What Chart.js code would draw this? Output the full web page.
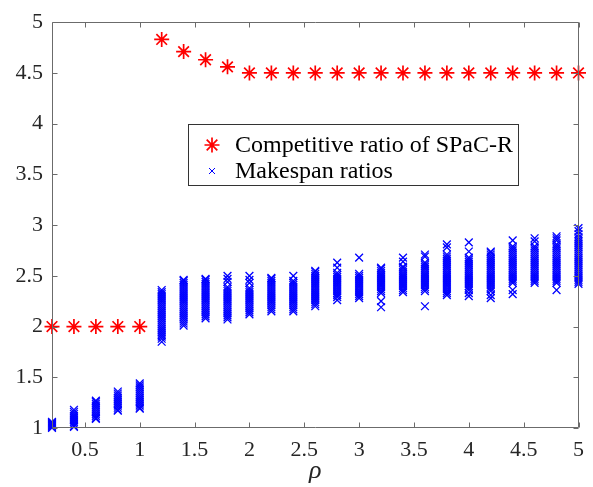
<!DOCTYPE html>
<html>
<head>
<meta charset="utf-8">
<script src="https://cdn.jsdelivr.net/npm/chart.js@4.4.1/dist/chart.umd.min.js"></script>
<style>
  html, body { margin: 0; padding: 0; background: #fff; }
  #wrap { width: 593px; height: 487px; }
</style>
</head>
<body>
<div id="wrap"><canvas id="chart"></canvas></div>
<script>
// rho values on the x axis
var rho = [0.2, 0.4, 0.6, 0.8, 1.0, 1.2, 1.4, 1.6, 1.8, 2.0, 2.2, 2.4, 2.6,
  2.8, 3.0, 3.2, 3.4, 3.6, 3.8, 4.0, 4.2, 4.4, 4.6, 4.8, 5.0];

// competitive ratio of SPaC-R (red asterisks)
var competitiveRatio = [2, 2, 2, 2, 2, 4.83, 4.71, 4.63, 4.56, 4.5, 4.5, 4.5, 4.5,
  4.5, 4.5, 4.5, 4.5, 4.5, 4.5, 4.5, 4.5, 4.5, 4.5, 4.5, 4.5];

// makespan ratios of the instances, one list per rho (blue crosses)
var makespanRatios = [
  [1.00, 1.01, 1.02, 1.03, 1.04, 1.05, 1.06],
  [1.01, 1.02, 1.04, 1.06, 1.08, 1.10, 1.12, 1.14, 1.16, 1.18],
  [1.09, 1.10, 1.12, 1.14, 1.16, 1.18, 1.20, 1.22, 1.24, 1.26, 1.27],
  [1.17, 1.18, 1.20, 1.22, 1.24, 1.26, 1.28, 1.30, 1.32, 1.34, 1.36],
  [1.19, 1.20, 1.22, 1.24, 1.26, 1.28, 1.30, 1.32, 1.34, 1.36, 1.38, 1.40, 1.42, 1.44],
  [1.85, 1.88, 1.90, 1.92, 1.94, 1.96, 1.98, 2.00, 2.02, 2.04, 2.06, 2.08, 2.10, 2.12, 2.14, 2.16,
    2.18, 2.20, 2.22, 2.24, 2.26, 2.28, 2.30, 2.32, 2.34, 2.36],
  [2.01, 2.03, 2.05, 2.07, 2.09, 2.11, 2.13, 2.15, 2.17, 2.19, 2.21, 2.23, 2.25, 2.27, 2.29, 2.31,
    2.33, 2.35, 2.37, 2.39, 2.41, 2.43, 2.45, 2.46],
  [2.08, 2.10, 2.12, 2.14, 2.16, 2.18, 2.20, 2.22, 2.24, 2.26, 2.28, 2.30, 2.32, 2.34, 2.36, 2.38,
    2.40, 2.42, 2.44, 2.46, 2.47],
  [2.07, 2.09, 2.11, 2.13, 2.15, 2.17, 2.19, 2.21, 2.23, 2.25, 2.27, 2.29, 2.31, 2.33, 2.35, 2.37,
    2.39, 2.44, 2.47, 2.50],
  [2.12, 2.14, 2.16, 2.18, 2.20, 2.22, 2.24, 2.26, 2.28, 2.30, 2.32, 2.34, 2.36, 2.38, 2.43, 2.46, 2.50],
  [2.15, 2.17, 2.19, 2.21, 2.23, 2.25, 2.27, 2.29, 2.31, 2.33, 2.35, 2.37, 2.39, 2.41, 2.43, 2.45, 2.47, 2.48],
  [2.15, 2.17, 2.19, 2.21, 2.23, 2.25, 2.27, 2.29, 2.31, 2.33, 2.35, 2.37, 2.39, 2.41, 2.43, 2.45, 2.50],
  [2.20, 2.22, 2.24, 2.26, 2.28, 2.30, 2.32, 2.34, 2.36, 2.38, 2.40, 2.42, 2.44, 2.46, 2.48, 2.50,
    2.52, 2.54, 2.55],
  [2.26, 2.29, 2.31, 2.33, 2.35, 2.37, 2.39, 2.41, 2.43, 2.45, 2.47, 2.49, 2.51, 2.53, 2.58, 2.63],
  [2.28, 2.30, 2.32, 2.34, 2.36, 2.38, 2.40, 2.42, 2.44, 2.46, 2.48, 2.50, 2.52, 2.68],
  [2.19, 2.25, 2.33, 2.35, 2.37, 2.39, 2.41, 2.43, 2.45, 2.47, 2.49, 2.51, 2.53, 2.55, 2.57, 2.58],
  [2.34, 2.36, 2.38, 2.40, 2.42, 2.44, 2.46, 2.48, 2.50, 2.52, 2.54, 2.56, 2.58, 2.59, 2.64, 2.68],
  [2.20, 2.35, 2.37, 2.39, 2.41, 2.43, 2.45, 2.47, 2.49, 2.51, 2.53, 2.55, 2.57, 2.59, 2.61, 2.63,
    2.69, 2.71],
  [2.31, 2.33, 2.35, 2.37, 2.39, 2.41, 2.43, 2.45, 2.47, 2.49, 2.51, 2.53, 2.55, 2.57, 2.59, 2.61,
    2.63, 2.65, 2.67, 2.69, 2.71, 2.78, 2.81],
  [2.30, 2.33, 2.36, 2.38, 2.40, 2.42, 2.44, 2.46, 2.48, 2.50, 2.52, 2.54, 2.56, 2.58, 2.60, 2.62,
    2.64, 2.66, 2.68, 2.74, 2.83],
  [2.28, 2.31, 2.35, 2.37, 2.39, 2.41, 2.43, 2.45, 2.47, 2.49, 2.51, 2.53, 2.55, 2.57, 2.59, 2.61,
    2.63, 2.65, 2.67, 2.69, 2.71, 2.73, 2.74],
  [2.32, 2.36, 2.43, 2.45, 2.47, 2.49, 2.51, 2.53, 2.55, 2.57, 2.59, 2.61, 2.63, 2.65, 2.67, 2.69,
    2.71, 2.73, 2.75, 2.77, 2.79, 2.85],
  [2.43, 2.45, 2.47, 2.49, 2.51, 2.53, 2.55, 2.57, 2.59, 2.61, 2.63, 2.65, 2.67, 2.69, 2.71, 2.73,
    2.75, 2.77, 2.79, 2.84, 2.87],
  [2.36, 2.43, 2.45, 2.47, 2.49, 2.51, 2.53, 2.55, 2.57, 2.59, 2.61, 2.63, 2.65, 2.67, 2.69, 2.71,
    2.73, 2.75, 2.77, 2.79, 2.81, 2.85, 2.87, 2.89],
  [2.42, 2.44, 2.46, 2.48, 2.50, 2.52, 2.54, 2.56, 2.58, 2.60, 2.62, 2.64, 2.66, 2.68, 2.70, 2.72,
    2.74, 2.76, 2.78, 2.80, 2.82, 2.84, 2.86, 2.88, 2.91, 2.94, 2.97]
];

var xTicks = [0.5, 1, 1.5, 2, 2.5, 3, 3.5, 4, 4.5, 5];
var yTicks = [1, 1.5, 2, 2.5, 3, 3.5, 4, 4.5, 5];

var seriesNames = ['Competitive ratio of SPaC-R', 'Makespan ratios'];

var axisColor = '#6b6b6b';
var serif = "'Liberation Serif', 'Times New Roman', serif";

Chart.defaults.font.family = serif;

var competitivePoints = rho.map(function (r, i) {
  return { x: r, y: competitiveRatio[i] };
});

var makespanPoints = [];
rho.forEach(function (r, i) {
  makespanRatios[i].forEach(function (v) {
    makespanPoints.push({ x: r, y: v });
  });
});

// box around the plot, inward ticks on all four sides, and the legend
var boxPlugin = {
  id: 'boxTicks',
  afterDraw: function (chart) {
    var ctx = chart.ctx;
    var a = chart.chartArea;
    var xs = chart.scales.x;
    var ys = chart.scales.y;
    var l = Math.round(a.left) + 0.5, r = Math.round(a.right) - 0.5;
    var t = Math.round(a.top) + 0.5, b = Math.round(a.bottom) - 0.5;
    var len = 5;

    ctx.save();
    ctx.strokeStyle = axisColor;
    ctx.lineWidth = 1;
    ctx.beginPath();
    ctx.rect(l, t, r - l, b - t);
    xTicks.forEach(function (v) {
      var px = Math.round(xs.getPixelForValue(v)) + 0.5;
      ctx.moveTo(px, b); ctx.lineTo(px, b - len);
      ctx.moveTo(px, t); ctx.lineTo(px, t + len);
    });
    yTicks.forEach(function (v) {
      var py = Math.round(ys.getPixelForValue(v)) + 0.5;
      ctx.moveTo(l, py); ctx.lineTo(l + len, py);
      ctx.moveTo(r, py); ctx.lineTo(r - len, py);
    });
    ctx.stroke();

    // legend
    var lx = 188.5, ly = 124.5, lw = 330, lh = 61;
    ctx.fillStyle = '#fff';
    ctx.fillRect(lx, ly, lw, lh);
    ctx.strokeStyle = '#333';
    ctx.strokeRect(lx, ly, lw, lh);

    // asterisk
    var mx = 212, my = 145, mr = 7.5;
    ctx.strokeStyle = '#ff0000';
    ctx.lineWidth = 1.7;
    ctx.beginPath();
    for (var k = 0; k < 4; k++) {
      var ang = k * Math.PI / 4;
      ctx.moveTo(mx - Math.cos(ang) * mr, my - Math.sin(ang) * mr);
      ctx.lineTo(mx + Math.cos(ang) * mr, my + Math.sin(ang) * mr);
    }
    ctx.stroke();

    // cross
    var cx = 212, cy = 171, cr = 3;
    ctx.strokeStyle = '#0000ff';
    ctx.lineWidth = 1;
    ctx.beginPath();
    ctx.moveTo(cx - cr, cy - cr); ctx.lineTo(cx + cr, cy + cr);
    ctx.moveTo(cx - cr, cy + cr); ctx.lineTo(cx + cr, cy - cr);
    ctx.stroke();

    ctx.fillStyle = '#000';
    ctx.font = '24px ' + serif;
    ctx.textAlign = 'left';
    ctx.textBaseline = 'middle';
    ctx.fillText(seriesNames[0], 235, 146);
    ctx.fillText(seriesNames[1], 235, 172);
    ctx.restore();
  }
};

new Chart(document.getElementById('chart'), {
  type: 'scatter',
  data: {
    datasets: [
      {
        label: seriesNames[0],
        data: competitivePoints,
        pointStyle: 'star',
        pointRadius: 7.5,
        pointHoverRadius: 7.5,
        borderColor: '#ff0000',
        backgroundColor: '#ff0000',
        borderWidth: 1.7,
        clip: false,
        order: 1
      },
      {
        label: seriesNames[1],
        data: makespanPoints,
        pointStyle: 'crossRot',
        pointRadius: 5.5,
        pointHoverRadius: 5.5,
        borderColor: '#0000ff',
        backgroundColor: '#0000ff',
        borderWidth: 1.3,
        clip: false,
        order: 2
      }
    ]
  },
  options: {
    responsive: true,
    maintainAspectRatio: false,
    animation: false,
    layout: { padding: { left: 0, top: 14, right: 10, bottom: 0 } },
    plugins: {
      legend: { display: false },
      tooltip: { enabled: false }
    },
    scales: {
      x: {
        type: 'linear',
        min: 0.2,
        max: 5,
        afterBuildTicks: function (scale) {
          scale.ticks = xTicks.map(function (v) { return { value: v }; });
        },
        afterFit: function (scale) { scale.height = 59; },
        grid: { display: false, drawTicks: false },
        border: { display: false },
        ticks: {
          color: '#262626',
          padding: 9,
          maxRotation: 0,
          font: { family: serif, size: 22 },
          callback: function (v) { return String(v); }
        },
        title: {
          display: true,
          text: 'ρ',
          color: '#262626',
          padding: { top: 0, bottom: 0 },
          font: { family: serif, size: 26, style: 'italic' }
        }
      },
      y: {
        type: 'linear',
        min: 1,
        max: 5,
        afterBuildTicks: function (scale) {
          scale.ticks = yTicks.map(function (v) { return { value: v }; });
        },
        afterFit: function (scale) { scale.width = 52; },
        grid: { display: false, drawTicks: false },
        border: { display: false },
        ticks: {
          color: '#262626',
          padding: 9,
          font: { family: serif, size: 22 },
          callback: function (v) { return String(v); }
        }
      }
    }
  },
  plugins: [boxPlugin]
});
</script>
</body>
</html>
